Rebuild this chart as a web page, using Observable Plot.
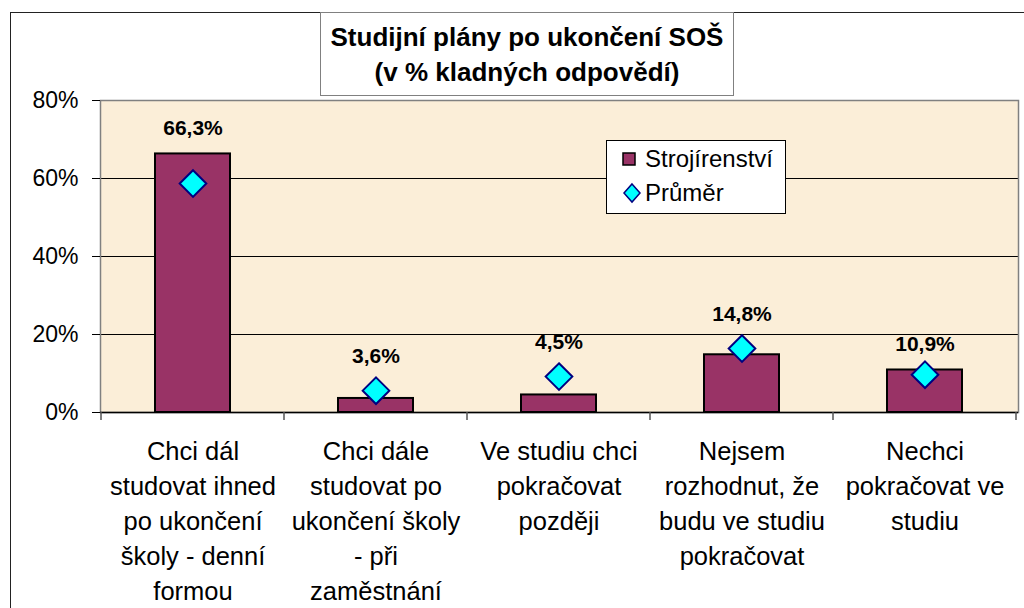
<!DOCTYPE html>
<html>
<head>
<meta charset="utf-8">
<script src="https://cdn.jsdelivr.net/npm/d3@7"></script>
<script src="https://cdn.jsdelivr.net/npm/@observablehq/plot@0.6"></script>
<style>
  html, body { margin: 0; padding: 0; background: #fff; }
  #wrap { position: relative; width: 1024px; height: 608px; overflow: hidden; font-family: Arial, "Liberation Sans", sans-serif; }
  #outer { position: absolute; left: 10px; top: 12px; width: 1100px; height: 800px; border: 1.5px solid #222; box-sizing: border-box; }
  #chart { position: absolute; left: 0; top: 0; }
  #title { position: absolute; left: 320px; top: 12px; width: 414px; height: 84px; box-sizing: border-box;
           border: 1px solid #808080; background: #fff; text-align: center; font-weight: bold; font-size: 26px;
           line-height: 35px; padding-top: 7px; color: #000; }
  #legend { position: absolute; left: 606px; top: 140px; width: 180px; height: 74px; box-sizing: border-box;
            border: 1px solid #000; background: #fff; font-size: 24px; color: #000; }
  .row { position: absolute; left: 0; height: 30px; display: flex; align-items: center; }
</style>
</head>
<body>
<div id="wrap">
  <div id="outer"></div>
  <div id="chart"></div>
  <div id="title">Studijní plány po ukončení SOŠ<br>(v % kladných odpovědí)</div>
  <div id="legend"></div>
</div>
<script>
const categories = [
  "Chci dál\nstudovat ihned\npo ukončení\nškoly - denní\nformou",
  "Chci dále\nstudovat po\nukončení školy\n- při\nzaměstnání",
  "Ve studiu chci\npokračovat\npozději",
  "Nejsem\nrozhodnut, že\nbudu ve studiu\npokračovat",
  "Nechci\npokračovat ve\nstudiu"
];
const strojirenstvi = [66.3, 3.6, 4.5, 14.8, 10.9];
const prumer = [58.7, 5.6, 9.2, 16.4, 9.7];
const yTicks = [0, 20, 40, 60, 80];
const seriesNames = ["Strojírenství", "Průměr"];

const barColor = "#993366";
const diamondFill = "#00FFFF";
const diamondStroke = "#000080";

const data = categories.map((c, i) => ({c, v: strojirenstvi[i], a: prumer[i]}));
const fmt = d => d.v.toFixed(1).replace(".", ",") + "%";

const chart = Plot.plot({
  width: 1024,
  height: 608,
  marginLeft: 100,
  marginRight: 6,
  marginTop: 100,
  marginBottom: 196,
  style: {fontFamily: 'Arial, "Liberation Sans", sans-serif', background: "transparent", color: "#000", overflow: "visible"},
  x: {domain: categories, paddingInner: 0.59, paddingOuter: 0.295, axis: null},
  y: {domain: [0, 80], axis: null},
  marks: [
    Plot.frame({fill: "#FBEED8", stroke: "none"}),
    Plot.ruleY(yTicks.filter(t => t > 0 && t < 80), {stroke: "#000", strokeWidth: 1}),
    Plot.frame({stroke: "#808080", strokeWidth: 1.5}),
    Plot.axisY({ticks: yTicks, tickFormat: d => d + "%", tickSize: 8, tickPadding: 14, fontSize: 23, color: "#000", label: null}),
    Plot.barY(data, {x: "c", y: "v", fill: barColor, stroke: "#000", strokeWidth: 2}),
    Plot.ruleY([0], {stroke: "#000", strokeWidth: 1.5}),
    Plot.dot(data, {x: "c", y: "a", symbol: "diamond2", r: 12, fill: diamondFill, stroke: diamondStroke, strokeWidth: 2}),
    Plot.text(data.filter(d => d.a <= d.v), {x: "c", y: "v", text: fmt, dy: -26, fontSize: 21, fontWeight: "bold", fill: "#000"}),
    Plot.text(data.filter(d => d.a > d.v), {x: "c", y: "a", text: fmt, dy: -34, fontSize: 21, fontWeight: "bold", fill: "#000"}),
    Plot.text(data, {x: "c", frameAnchor: "bottom", text: "c", lineAnchor: "top", dy: 23, fontSize: 25.5, lineHeight: 1.37, fill: "#000"})
  ]
});
document.getElementById("chart").appendChild(chart);

// category boundary ticks on the x axis, from the library's band scale
const sx = chart.scale("x");
const sy = chart.scale("y");
const gap = (sx.step - sx.bandwidth) / 2;
const bounds = categories.map(c => sx.apply(c) - gap);
bounds.push(sx.apply(categories[categories.length - 1]) + sx.bandwidth + gap);
const y0 = sy.apply(0);
d3.select(chart).append("g")
  .selectAll("line").data(bounds).join("line")
  .attr("x1", d => d).attr("x2", d => d)
  .attr("y1", y0).attr("y2", y0 + 8)
  .attr("stroke", "#555").attr("stroke-width", 1.5);

// legend
const legend = d3.select("#legend");
const r1 = legend.append("div").attr("class", "row").style("top", "3px");
r1.append("svg").attr("width", 38).attr("height", 30)
  .append("rect").attr("x", 16).attr("y", 9).attr("width", 12).attr("height", 12)
  .attr("fill", barColor).attr("stroke", "#000").attr("stroke-width", 1.5);
r1.append("span").text(seriesNames[0]);
const r2 = legend.append("div").attr("class", "row").style("top", "37px");
r2.append("svg").attr("width", 38).attr("height", 30)
  .append("path").attr("d", "M25,6 L33,15 L25,24 L17,15 Z")
  .attr("fill", diamondFill).attr("stroke", diamondStroke).attr("stroke-width", 1.5);
r2.append("span").text(seriesNames[1]);
</script>
</body>
</html>
